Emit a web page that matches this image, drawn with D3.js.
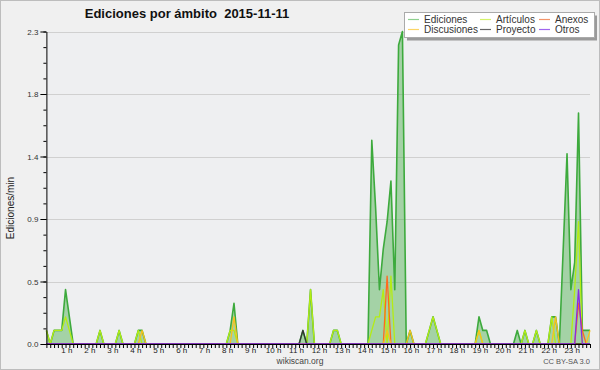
<!DOCTYPE html>
<html>
<head>
<meta charset="utf-8">
<script src="https://cdn.jsdelivr.net/npm/d3@7"></script>
<style>
  body { margin: 0; background: #f0f0f0; }
  svg { display: block; font-family: "Liberation Sans", Arial, sans-serif; }
</style>
</head>
<body>
<svg id="chart" width="600" height="370"></svg>
<script>
// one value every 10 minutes, 00:00 .. 23:40 (edits per minute)
const ediciones = [
  0.1,0,0.1,0.1,0.1,0.4,0.2,0,0,0,0,0,
  0,0,0.1,0,0,0,0,0.1,0,0,0,0,
  0.1,0.1,0,0,0,0,0,0,0,0,0,0,
  0,0,0,0,0,0,0,0,0,0,0,0,
  0.1,0.3,0,0,0,0,0,0,0,0,0,0,
  0,0,0,0,0,0,0,0.1,0,0.4,0,0,
  0,0,0,0.1,0.1,0,0,0,0,0,0,0,
  0,1.5,1.0,0.4,0.7,0.9,1.2,0.4,2.2,2.3,0,0.1,
  0,0,0,0,0.1,0.2,0.1,0,0,0,0,0,
  0,0,0,0,0,0.2,0.1,0.1,0,0,0,0,
  0,0,0,0.1,0,0.1,0,0,0.1,0,0,0,
  0.2,0.2,0,0.7,1.4,0.4,0.6,1.7,0.1,0.1,0.1
];
const articulos = [
  0.1,0,0.1,0.1,0.1,0.2,0.1,0,0,0,0,0,
  0,0,0.1,0,0,0,0,0.1,0,0,0,0,
  0.1,0,0,0,0,0,0,0,0,0,0,0,
  0,0,0,0,0,0,0,0,0,0,0,0,
  0.1,0.1,0,0,0,0,0,0,0,0,0,0,
  0,0,0,0,0,0,0,0,0,0.4,0,0,
  0,0,0,0.1,0.1,0,0,0,0,0,0,0,
  0,0.1,0.2,0.2,0.4,0,0.5,0,0,0,0,0,
  0,0,0,0,0.1,0.2,0.1,0,0,0,0,0,
  0,0,0,0,0,0.1,0,0,0,0,0,0,
  0,0,0,0,0,0.1,0,0,0.1,0,0,0,
  0.2,0,0,0,0,0,0.4,0.9,0,0,0
];
const anexos = [
  0,0,0,0,0,0,0,0,0,0,0,0,
  0,0,0,0,0,0,0,0,0,0,0,0,
  0,0,0,0,0,0,0,0,0,0,0,0,
  0,0,0,0,0,0,0,0,0,0,0,0,
  0,0,0,0,0,0,0,0,0,0,0,0,
  0,0,0,0,0,0,0,0,0,0,0,0,
  0,0,0,0,0,0,0,0,0,0,0,0,
  0,0,0,0,0,0.5,0,0,0,0,0,0,
  0,0,0,0,0,0,0,0,0,0,0,0,
  0,0,0,0,0,0,0,0,0,0,0,0,
  0,0,0,0,0,0,0,0,0,0,0,0,
  0,0,0,0,0,0,0,0.3,0.1,0,0
];
const discusiones = [
  0,0,0,0,0,0,0,0,0,0,0,0,
  0,0,0,0,0,0,0,0,0,0,0,0,
  0,0.1,0,0,0,0,0,0,0,0,0,0,
  0,0,0,0,0,0,0,0,0,0,0,0,
  0,0.2,0,0,0,0,0,0,0,0,0,0,
  0,0,0,0,0,0,0,0,0,0,0,0,
  0,0,0,0,0,0,0,0,0,0,0,0,
  0,0,0,0,0,0.1,0,0,0,0,0,0.1,
  0,0,0,0,0,0,0,0,0,0,0,0,
  0,0,0,0,0,0.1,0,0,0,0,0,0,
  0,0,0,0,0,0,0,0,0,0,0,0,
  0,0.2,0,0,0,0,0,0,0,0,0.1
];
const proyecto = [
  0,0,0,0,0,0,0,0,0,0,0,0,
  0,0,0,0,0,0,0,0,0,0,0,0,
  0,0,0,0,0,0,0,0,0,0,0,0,
  0,0,0,0,0,0,0,0,0,0,0,0,
  0,0,0,0,0,0,0,0,0,0,0,0,
  0,0,0,0,0,0,0,0.1,0,0,0,0,
  0,0,0,0,0,0,0,0,0,0,0,0,
  0,0,0,0,0,0,0,0,0,0,0,0,
  0,0,0,0,0,0,0,0,0,0,0,0,
  0,0,0,0,0,0,0,0,0,0,0,0,
  0,0,0,0,0,0,0,0,0,0,0,0,
  0,0,0,0,0,0,0,0,0,0,0
];
const otros = [
  0,0,0,0,0,0,0,0,0,0,0,0,
  0,0,0,0,0,0,0,0,0,0,0,0,
  0,0,0,0,0,0,0,0,0,0,0,0,
  0,0,0,0,0,0,0,0,0,0,0,0,
  0,0,0,0,0,0,0,0,0,0,0,0,
  0,0,0,0,0,0,0,0,0,0,0,0,
  0,0,0,0,0,0,0,0,0,0,0,0,
  0,0,0,0,0,0,0,0,0,0,0,0,
  0,0,0,0,0,0,0,0,0,0,0,0,
  0,0,0,0,0,0,0,0,0,0,0,0,
  0,0,0,0,0,0,0,0,0,0,0,0,
  0,0,0,0,0,0,0,0.4,0,0,0
];

const hourLabels = ["1 h","2 h","3 h","4 h","5 h","6 h","7 h","8 h","9 h","10 h","11 h","12 h",
  "13 h","14 h","15 h","16 h","17 h","18 h","19 h","20 h","21 h","22 h","23 h"];
const yTickValues = [0, 0.46, 0.92, 1.38, 1.84, 2.3];
const yTickLabels = ["0.0", "0.5", "0.9", "1.4", "1.8", "2.3"];

const series = [
  { name: "Ediciones",   values: ediciones,   color: "#3daa3d", legend: "#8fd08f" },
  { name: "Artículos",   values: articulos,   color: "#b4ec14", legend: "#d4f26a" },
  { name: "Anexos",      values: anexos,      color: "#ff6a1e", legend: "#f3946a" },
  { name: "Discusiones", values: discusiones, color: "#f7c21c", legend: "#fbd566" },
  { name: "Proyecto",    values: proyecto,    color: "#333333", legend: "#666666" },
  { name: "Otros",       values: otros,       color: "#8a2be2", legend: "#a066ee" }
];

const W = 600, H = 370;
const plotL = 46.4, plotR = 590, plotT = 31.5, plotB = 344;

const svg = d3.select("#chart");

// frame
svg.append("rect").attr("x", 0.5).attr("y", 0.5).attr("width", W - 1).attr("height", H - 1)
  .attr("fill", "#f0f0f0").attr("stroke", "#bdbdbd");

const slots = d3.range(ediciones.length); // 10-minute slots
const x = d3.scaleLinear().domain([0, slots.length - 1]).range([plotL, plotR]);
const y = d3.scaleLinear().domain([0, 2.3]).range([plotB, plotT]);

svg.append("rect").attr("x", plotL).attr("y", plotT)
  .attr("width", plotR - plotL).attr("height", plotB - plotT).attr("fill", "#eeeff1");

// grid
svg.append("g").selectAll("line").data(yTickValues.slice(1)).enter().append("line")
  .attr("x1", plotL).attr("x2", plotR)
  .attr("y1", d => Math.round(y(d)) + 0.5).attr("y2", d => Math.round(y(d)) + 0.5)
  .attr("stroke", "#d0d0d0");

// series
const area = d3.area().x((d, i) => x(i)).y0(y(0)).y1(d => y(d));
const line = d3.line().x((d, i) => x(i)).y(d => y(d));

svg.append("path").datum(ediciones).attr("d", area)
  .attr("fill", "#3daa3d").attr("fill-opacity", 0.42);

series.forEach((s, k) => {
  svg.append("path").datum(s.values).attr("d", line)
    .attr("fill", "none").attr("stroke", s.color)
    .attr("stroke-width", k === 0 ? 1.6 : 1.3).attr("stroke-linejoin", "round");
});

// y axis
const minorY = d3.range(0, 21).map(k => k * 0.115);
svg.append("g").attr("transform", "translate(" + plotL + ",0)")
  .call(d3.axisLeft(y).tickValues(minorY).tickSize(3).tickSizeOuter(0).tickFormat(""))
  .call(g => g.select(".domain").remove());
const yAxis = svg.append("g").attr("transform", "translate(" + plotL + ",0)")
  .call(d3.axisLeft(y).tickValues(yTickValues).tickSize(6).tickSizeOuter(0)
    .tickFormat((d, i) => yTickLabels[i]));
yAxis.selectAll("text").attr("font-size", 8).attr("fill", "#333").attr("dx", 1);
yAxis.selectAll("line, path").attr("stroke", "#000");

// x axis: a tick for every slot
const xAxis = svg.append("g").attr("transform", "translate(0," + plotB + ")")
  .call(d3.axisBottom(x).tickValues(slots).tickSize(4).tickSizeOuter(0).tickFormat(""));
xAxis.selectAll("line, path").attr("stroke", "#000");

const hourSlots = hourLabels.map((d, i) => (i + 1) * 6);
const xLabels = svg.append("g").attr("transform", "translate(-3," + plotB + ")")
  .call(d3.axisBottom(x).tickValues(hourSlots).tickSize(0).tickPadding(3)
    .tickFormat((d, i) => hourLabels[i]));
xLabels.select(".domain").remove();
xLabels.selectAll("text").attr("font-size", 8).attr("fill", "#222");

// title and texts
svg.append("text").attr("x", 187).attr("y", 18).attr("text-anchor", "middle")
  .attr("font-size", 13).attr("font-weight", "bold").attr("fill", "#111")
  .text("Ediciones por ámbito\u00a0\u00a02015-11-11");

svg.append("text").attr("transform", "translate(14,208) rotate(-90)")
  .attr("text-anchor", "middle").attr("font-size", 10).attr("fill", "#222")
  .text("Ediciones/min");

svg.append("text").attr("x", 300).attr("y", 364).attr("text-anchor", "middle")
  .attr("font-size", 8.5).attr("fill", "#444").text("wikiscan.org");

svg.append("text").attr("x", 590).attr("y", 364).attr("text-anchor", "end")
  .attr("font-size", 7.5).attr("fill", "#555").text("CC BY-SA 3.0");

// legend
const lg = svg.append("g");
lg.append("rect").attr("x", 407).attr("y", 15.5).attr("width", 190).attr("height", 25)
  .attr("fill", "#9a9a9a");
lg.append("rect").attr("x", 404.5).attr("y", 12.5).attr("width", 190).attr("height", 25)
  .attr("fill", "#fff").attr("stroke", "#aaa");

const colX = [408, 480, 539];
series.forEach((s, k) => {
  const cx = colX[k % 3], cy = k < 3 ? 19.5 : 29.5;
  lg.append("line").attr("x1", cx).attr("x2", cx + 11).attr("y1", cy).attr("y2", cy)
    .attr("stroke", s.legend).attr("stroke-width", 1.2);
  lg.append("text").attr("x", cx + 16).attr("y", cy + 3.5)
    .attr("font-size", 10).attr("fill", "#333").text(s.name);
});
</script>
</body>
</html>
